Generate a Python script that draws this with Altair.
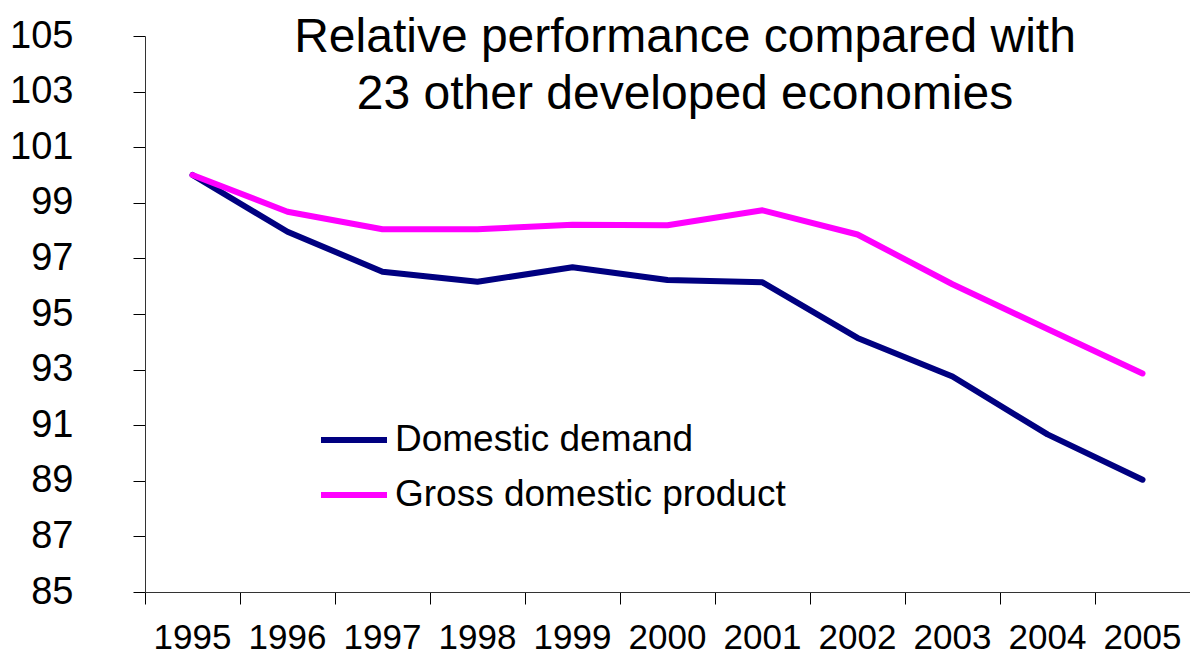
import altair as alt
import pandas as pd

YEARS = ["1995", "1996", "1997", "1998", "1999", "2000",
         "2001", "2002", "2003", "2004", "2005"]
DOMESTIC_DEMAND = [100.0, 97.96, 96.52, 96.16, 96.68, 96.22,
                   96.14, 94.14, 92.75, 90.67, 89.04]
GDP = [100.0, 98.68, 98.05, 98.05, 98.21, 98.19,
       98.73, 97.86, 96.07, 94.46, 92.86]
SERIES = ["Domestic demand", "Gross domestic product"]
COLORS = ["#000080", "#FF00FF"]
Y_TICKS = [85, 87, 89, 91, 93, 95, 97, 99, 101, 103, 105]
TITLE_LINES = ["Relative performance compared with",
               "23 other developed economies"]

FONT = "Liberation Sans"

rows = []
for name, vals in zip(SERIES, [DOMESTIC_DEMAND, GDP]):
    for yr, v in zip(YEARS, vals):
        rows.append({"year": yr, "value": v, "series": name})
df = pd.DataFrame(rows)

lines = alt.Chart(df).mark_line(
    strokeWidth=6, strokeCap="round", strokeJoin="round"
).encode(
    x=alt.X(
        "year:O", sort=YEARS,
        scale=alt.Scale(type="band", paddingInner=0, paddingOuter=0),
        axis=alt.Axis(title=None, bandPosition=0, labelAngle=0,
                      labelFontSize=35, labelPadding=16, tickSize=12,
                      labelFont=FONT, labelColor="#000", grid=False,
                      domainColor="#333", tickColor="#000"),
    ),
    y=alt.Y(
        "value:Q",
        scale=alt.Scale(domain=[85, 105], nice=False, zero=False),
        axis=alt.Axis(title=None, values=Y_TICKS, labelFontSize=38,
                      labelPadding=60, tickSize=12, labelFont=FONT,
                      labelColor="#000", grid=False,
                      domainColor="#333", tickColor="#000"),
    ),
    color=alt.Color(
        "series:N", sort=SERIES,
        scale=alt.Scale(domain=SERIES, range=COLORS),
        legend=alt.Legend(title=None, orient="none", legendX=173, legendY=379,
                          symbolType="stroke", symbolStrokeWidth=6,
                          symbolSize=4356, labelFontSize=37, labelFont=FONT,
                          labelColor="#000", labelLimit=0, clipHeight=50,
                          rowPadding=5, padding=0, labelOffset=5),
    ),
)

title_df = pd.DataFrame({"text": ["\n".join(TITLE_LINES)]})
title = alt.Chart(title_df).mark_text(
    fontSize=48, font=FONT, lineBreak="\n", lineHeight=57,
    baseline="top", align="center", color="#000"
).encode(
    x=alt.value(540), y=alt.value(-22), text="text:N"
)

chart = alt.layer(lines, title).properties(
    width=1045, height=556,
    autosize=alt.AutoSizeParams(type="none"),
    padding={"left": 137, "top": 28, "right": 0, "bottom": 64},
).configure_view(stroke=None)

chart.save("out.html", embed_options={"renderer": "svg", "actions": False})
